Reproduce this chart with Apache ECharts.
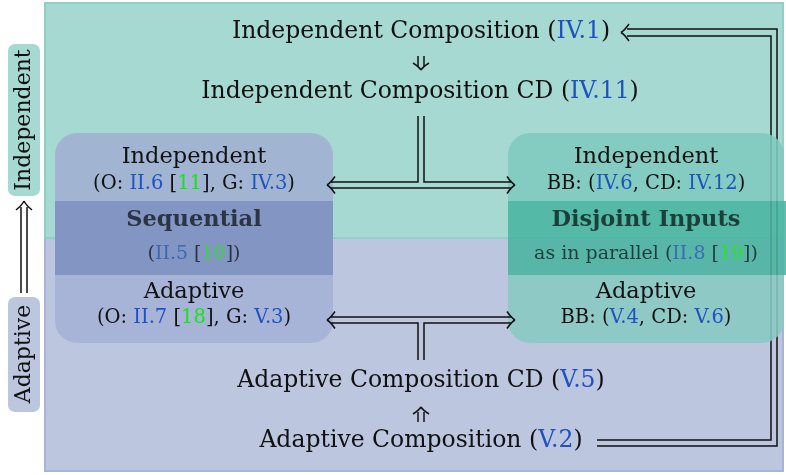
<!DOCTYPE html>
<html>
<head>
<meta charset="utf-8">
<script src="https://cdn.jsdelivr.net/npm/echarts@6/dist/echarts.min.js"></script>
<style>html,body{margin:0;padding:0;background:#fff}#main{width:786px;height:475px}</style>
</head>
<body>
<div id="main"></div>
<script>
// texts; {r|..} = reference (blue), {c|..} = citation (green)
var compTop = ['Independent Composition ({r|IV.1})', 'Independent Composition CD ({r|IV.11})'];
var compBottom = ['Adaptive Composition CD ({r|V.5})', 'Adaptive Composition ({r|V.2})'];
var sideTags = ['Independent', 'Adaptive'];
var seqBox = ['Independent', '(O: {r|II.6} [{c|11}], G: {r|IV.3})', 'Sequential',
  '({r|II.5} [{c|10}])', 'Adaptive', '(O: {r|II.7} [{c|18}], G: {r|V.3})'];
var disBox = ['Independent', 'BB: ({r|IV.6}, CD: {r|IV.12})', 'Disjoint Inputs',
  'as in parallel ({r|II.8} [{c|19}])', 'Adaptive', 'BB: ({r|V.4}, CD: {r|V.6})'];

var SERIF = '"DejaVu Serif", serif';
var BLUE = '#1f52c0', GREEN = '#14e614', INK = '#111';
var BIG = 23.5, HEAD = 22.5, SMALL = 19.5, LW = 1.5;

function font(size, bold) { return (bold ? 'bold ' : '') + size + 'px ' + SERIF; }

function txt(x, y, s, size, o) {
  o = o || {};
  var f = font(size, o.bold);
  return {
    type: 'text', x: x, y: y, rotation: o.rot || 0, z: 20,
    style: {
      text: s, font: f, fill: o.fill || INK,
      align: 'center', verticalAlign: 'middle',
      textAlign: 'center', textVerticalAlign: 'middle',
      rich: {
        r: { font: f, fill: o.blue || BLUE, color: o.blue || BLUE },
        c: { font: f, fill: o.green || GREEN, color: o.green || GREEN }
      }
    }
  };
}

function line(pts, w, z) {
  return { type: 'polyline', z: z || 15, shape: { points: pts }, style: { stroke: INK, lineWidth: w || LW, fill: null } };
}

// latex-like arrow head; (dx,dy) points from the tip back along the shaft
function head(tx, ty, dx, dy, len, wid) {
  len = len || 8; wid = wid || 8.5;
  var px = -dy, py = dx, out = [];
  [1, -1].forEach(function (s) {
    out.push({
      type: 'bezierCurve', z: 25,
      shape: {
        x1: tx + dx * len + px * wid * s, y1: ty + dy * len + py * wid * s,
        x2: tx, y2: ty,
        cpx1: tx + dx * len * 0.45 + px * wid * 0.25 * s, cpy1: ty + dy * len * 0.45 + py * wid * 0.25 * s
      },
      style: { stroke: INK, lineWidth: LW, fill: null }
    });
  });
  return out;
}

function box(cx, x, w, cols, op, labels, dark) {
  var r = 22, els = [];
  els.push({ type: 'rect', z: 10, shape: { x: x, y: 133, width: w, height: 68, r: [r, r, 0, 0] }, style: { fill: cols[0], opacity: op } });
  els.push({ type: 'rect', z: 10, shape: { x: x, y: 201, width: w + cols[3], height: 74 }, style: { fill: cols[1], opacity: op } });
  els.push({ type: 'rect', z: 10, shape: { x: x, y: 275, width: w, height: 68, r: [0, 0, r, r] }, style: { fill: cols[2], opacity: op } });
  els.push(txt(cx, 157, labels[0], HEAD));
  els.push(txt(cx, 184, labels[1], SMALL));
  els.push(txt(cx, 220, labels[2], HEAD, { bold: true, fill: dark.ink }));
  els.push(txt(cx, 254, labels[3], 19, { fill: dark.ink, blue: dark.blue, green: dark.green }));
  els.push(txt(cx, 292, labels[4], HEAD));
  els.push(txt(cx, 318, labels[5], SMALL));
  return els;
}

var els = [];
// regions
els.push({ type: 'rect', z: 1, shape: { x: 45, y: 238, width: 738, height: 233 }, style: { fill: '#bdc6df', stroke: '#a7b4d8', lineWidth: 2 } });
els.push({ type: 'rect', z: 1, shape: { x: 45, y: 3, width: 738, height: 235 }, style: { fill: '#a6d9d1', stroke: '#8ed0c5', lineWidth: 2 } });

// side tags
els.push({ type: 'rect', z: 2, shape: { x: 8, y: 44, width: 32, height: 152, r: 7 }, style: { fill: '#a6d9d1' } });
els.push({ type: 'rect', z: 2, shape: { x: 8, y: 297, width: 32, height: 115, r: 7 }, style: { fill: '#bdc6df' } });
els.push(txt(24, 120, sideTags[0], HEAD - 0.5, { rot: Math.PI / 2 }));
els.push(txt(24, 354, sideTags[1], HEAD - 0.5, { rot: Math.PI / 2 }));
els.push(line([[21, 293], [21, 207]]), line([[27, 293], [27, 207]]));
els = els.concat(head(24, 201, 0, 1, 9, 8));

// compositions
els.push(txt(421, 32, compTop[0], BIG));
els.push(txt(420, 92, compTop[1], BIG));
els.push(txt(421, 381, compBottom[0], BIG));
els.push(txt(421, 441, compBottom[1], BIG));

// small implication arrows
els.push(line([[418, 56], [418, 66]]), line([[424, 56], [424, 66]]));
els = els.concat(head(421, 70, 0, -1, 7, 8));
els.push(line([[418, 422], [418, 412]]), line([[424, 422], [424, 412]]));
els = els.concat(head(421, 407, 0, 1, 7, 8));

// T-junction top
els.push(line([[331, 182], [418, 182], [418, 116]]));
els.push(line([[424, 116], [424, 182], [511, 182]]));
els.push(line([[331, 188], [511, 188]]));
els = els.concat(head(327, 185, 1, 0), head(515, 185, -1, 0));
// T-junction bottom
els.push(line([[331, 323], [418, 323], [418, 360]]));
els.push(line([[424, 360], [424, 323], [511, 323]]));
els.push(line([[331, 317], [511, 317]]));
els = els.concat(head(327, 320, 1, 0), head(515, 320, -1, 0));

// loop from adaptive composition back to independent composition
els.push(line([[597, 446], [777, 446], [777, 29], [627, 29]], LW, 5));
els.push(line([[597, 440], [771, 440], [771, 36], [627, 36]], LW, 5));
els = els.concat(head(621, 32.5, 1, 0));

// method boxes
els = els.concat(box(194, 55, 278, ['#a1b5d3', '#8396c3', '#a7b4d8', 0], 1, seqBox,
  { ink: '#2c3345', blue: '#3e66b5', green: '#2fdd2f' }));
els = els.concat(box(646, 508, 276, ['#80cabe', '#4ab4a2', '#89cac3', 4], 0.88, disBox,
  { ink: '#1d3f3a', blue: '#3a6cb5', green: '#2ee02e' }));

var chart = echarts.init(document.getElementById('main'));
chart.setOption({
  backgroundColor: '#fff',
  animation: false,
  graphic: { elements: els }
});
</script>
</body>
</html>
